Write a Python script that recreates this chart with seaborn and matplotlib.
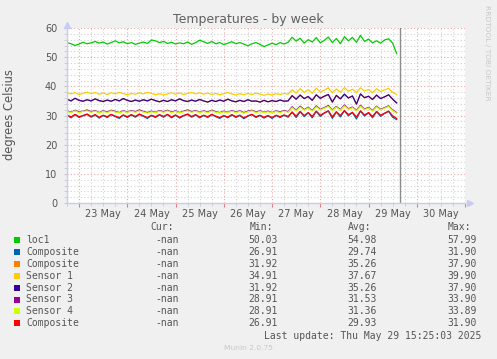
import matplotlib
matplotlib.use("Agg")
import matplotlib.pyplot as plt
import matplotlib.dates as mdates
from matplotlib.patches import Rectangle
from matplotlib.ticker import MultipleLocator, FuncFormatter, NullFormatter
import seaborn as sns
import pandas as pd

# ------------------------------------------------------------
# data (2 h steps from 22 May 18:00)
# ------------------------------------------------------------
start = "2025-05-22 18:00"
last_update = "2025-05-29 15:25:03"

loc1 = [
    55.0, 54.6, 54.0, 54.5, 55.1, 54.6, 54.9, 55.4,
    54.8, 55.2, 54.5, 55.0, 55.6, 54.9, 55.3, 54.6,
    55.0, 54.4, 54.8, 55.2, 54.7, 55.9, 55.6, 55.0,
    55.4, 54.7, 55.1, 54.5, 54.9, 54.6, 55.2, 54.4,
    55.0, 55.8, 55.3, 54.7, 55.4, 54.6, 55.0, 54.3,
    54.8, 55.3, 54.6, 55.0, 54.5, 53.9, 54.6, 55.0,
    54.4, 53.6, 54.2, 54.8, 54.3, 55.0, 54.5, 55.1,
    56.8, 55.5, 56.5, 54.8, 56.0, 55.2, 56.7, 54.9, 55.8,
    56.9, 55.0, 56.4, 54.6, 57.0, 55.6, 56.8, 55.1, 57.5,
    55.4, 56.2, 54.9, 55.6, 54.8, 55.9, 56.3, 54.8, 51.2,
]
sensor_1 = [
    37.9, 37.4, 37.8, 37.2, 37.6, 38.0, 37.5, 37.9,
    37.3, 37.7, 37.2, 37.8, 37.4, 37.9, 37.5, 37.1,
    37.6, 37.3, 37.8, 37.4, 37.9, 37.6, 37.1, 37.5,
    37.0, 37.4, 37.8, 37.3, 37.7, 37.2, 37.6, 37.9,
    37.4, 37.8, 37.3, 37.7, 37.2, 37.6, 37.1, 37.5,
    37.9, 37.4, 37.0, 37.5, 37.1, 37.6, 37.2, 37.7,
    37.3, 36.9, 37.4, 37.0, 37.5, 37.2, 37.6, 37.3,
    38.8, 37.7, 39.2, 37.9, 38.9, 37.6, 39.4, 38.1, 38.7,
    39.5, 37.8, 39.1, 38.0, 39.6, 38.3, 39.0, 37.9, 39.5,
    38.4, 38.9, 37.8, 39.2, 38.2, 38.8, 39.3, 38.0, 37.2,
]
sensor_2 = [
    35.6, 35.0, 35.9, 35.2, 34.9, 35.4, 35.0, 35.7,
    35.1, 34.8, 35.3, 34.9, 35.5, 35.0, 35.8, 35.2,
    34.8, 35.3, 34.9, 35.4, 35.0, 35.6, 35.1, 34.7,
    35.2, 34.8, 35.4, 35.0, 35.7, 35.1, 34.8, 35.3,
    34.9, 35.5, 35.0, 34.6, 35.2, 34.8, 35.3, 34.9,
    35.6, 35.0, 34.7, 35.2, 34.8, 35.4, 34.9, 35.0,
    34.6, 35.2, 34.7, 35.1, 34.8, 35.3, 34.9, 35.0,
    36.8, 35.6, 37.0, 35.8, 36.5, 35.2, 37.1, 35.9, 36.6,
    37.2, 34.6, 36.9, 35.7, 37.3, 36.0, 36.7, 33.9, 37.4,
    36.1, 36.6, 35.5, 37.0, 35.8, 36.4, 37.1, 35.6, 34.3,
]
# the orange Composite has the same min/avg/max as Sensor 2 -> same curve, hidden under it
composite_b = list(sensor_2)
sensor_3 = [
    31.6, 31.1, 31.8, 31.2, 31.5, 31.9, 31.3, 31.7,
    31.0, 31.6, 31.2, 31.8, 31.4, 31.0, 31.6, 31.2,
    31.7, 31.3, 31.9, 31.4, 31.0, 31.5, 31.1, 31.7,
    31.3, 31.8, 31.2, 31.6, 31.0, 31.5, 31.9, 31.3,
    31.7, 31.1, 31.6, 31.2, 31.8, 31.3, 31.0, 31.5,
    31.1, 31.7, 31.2, 31.6, 31.0, 31.5, 31.8, 31.2,
    31.6, 31.1, 31.5, 31.0, 31.6, 31.2, 31.7, 31.3,
    33.0, 31.8, 33.2, 32.0, 32.8, 31.7, 33.3, 32.1, 32.7,
    33.4, 31.9, 33.1, 32.0, 33.6, 32.3, 32.9, 31.8, 33.5,
    32.2, 32.8, 31.7, 33.2, 32.1, 32.7, 33.3, 31.9, 31.0,
]
sensor_4 = [
    31.4, 31.0, 31.6, 31.0, 31.4, 31.6, 31.1, 31.5,
    30.9, 31.4, 31.0, 31.6, 31.2, 30.9, 31.4, 31.1,
    31.5, 31.1, 31.6, 31.2, 30.8, 31.3, 31.0, 31.5,
    31.1, 31.6, 31.0, 31.4, 30.9, 31.3, 31.6, 31.1,
    31.5, 31.0, 31.4, 31.0, 31.6, 31.1, 30.9, 31.3,
    31.0, 31.5, 31.0, 31.4, 30.8, 31.3, 31.6, 31.0,
    31.4, 31.0, 31.3, 30.9, 31.4, 31.0, 31.5, 31.1,
    32.7, 31.6, 32.9, 31.8, 32.6, 31.5, 33.0, 31.9, 32.5,
    33.1, 31.7, 32.9, 31.8, 33.3, 32.1, 32.7, 31.6, 33.2,
    32.0, 32.6, 31.5, 33.0, 31.9, 32.5, 33.1, 31.7, 30.8,
]
composite_c = [
    30.2, 29.5, 30.4, 29.6, 30.0, 30.5, 29.7, 30.3,
    29.4, 30.1, 29.6, 30.4, 29.8, 29.3, 30.2, 29.6,
    30.3, 29.7, 30.5, 29.9, 29.3, 30.1, 29.6, 30.3,
    29.7, 30.4, 29.5, 30.2, 29.4, 30.0, 30.5, 29.7,
    30.3, 29.5, 30.1, 29.6, 30.4, 29.8, 29.3, 30.0,
    29.5, 30.3, 29.6, 30.1, 29.2, 29.9, 30.4, 29.6,
    30.1, 29.4, 30.0, 29.3, 30.1, 29.6, 30.2, 29.7,
    31.2, 29.8, 31.4, 30.0, 31.0, 29.7, 31.5, 30.1, 30.9,
    31.6, 29.6, 31.3, 30.0, 31.7, 30.3, 31.1, 29.5, 31.6,
    30.2, 31.0, 29.7, 31.4, 30.1, 30.8, 31.5, 29.9, 29.0,
]
composite_a = [
    30.1, 29.2, 30.3, 29.3, 29.9, 30.4, 29.4, 30.2,
    29.1, 30.0, 29.3, 30.3, 29.6, 29.0, 30.1, 29.3,
    30.2, 29.4, 30.4, 29.7, 29.0, 30.0, 29.3, 30.2,
    29.4, 30.3, 29.2, 30.1, 29.1, 29.9, 30.4, 29.4,
    30.2, 29.2, 30.0, 29.3, 30.3, 29.6, 29.0, 29.9,
    29.2, 30.2, 29.3, 30.0, 28.9, 29.8, 30.3, 29.3,
    30.0, 29.1, 29.9, 29.0, 30.0, 29.3, 30.1, 29.4,
    31.1, 29.3, 31.3, 29.6, 30.9, 29.2, 31.4, 29.7, 30.8,
    31.5, 29.0, 31.2, 29.5, 31.6, 29.9, 31.0, 28.8, 31.5,
    29.8, 30.9, 29.2, 31.3, 29.7, 30.7, 31.4, 29.4, 28.6,
]

series_keys = ["loc1", "composite_a", "composite_b", "sensor_1",
               "sensor_2", "sensor_3", "sensor_4", "composite_c"]
series_labels = ["loc1", "Composite", "Composite", "Sensor 1",
                 "Sensor 2", "Sensor 3", "Sensor 4", "Composite"]
series_colors = ["#00CC00", "#0066B3", "#FF8000", "#FFCC00",
                 "#330099", "#990099", "#CCFF00", "#FF0000"]
series_values = [loc1, composite_a, composite_b, sensor_1,
                 sensor_2, sensor_3, sensor_4, composite_c]

cur_vals = ["-nan"] * 8
min_vals = ["50.03", "26.91", "31.92", "34.91", "31.92", "28.91", "28.91", "26.91"]
avg_vals = ["54.98", "29.74", "35.26", "37.67", "35.26", "31.53", "31.36", "29.93"]
max_vals = ["57.99", "31.90", "37.90", "39.90", "37.90", "33.90", "33.89", "31.90"]

frames = []
for key, vals in zip(series_keys, series_values):
    frames.append(pd.DataFrame({
        "time": pd.date_range(start, periods=len(vals), freq="2h"),
        "value": vals,
        "series": key,
    }))
df = pd.concat(frames, ignore_index=True)

# ------------------------------------------------------------
# figure
# ------------------------------------------------------------
W, H = 497, 359
bg = "#F0F0F0"
txt = "#555555"

fig = plt.figure(figsize=(W / 100, H / 100), dpi=100, facecolor=bg)
ax = fig.add_axes([67 / W, 1 - 203 / H, 398 / W, 175 / H], facecolor="white")

sns.lineplot(data=df, x="time", y="value", hue="series", hue_order=series_keys,
             palette=dict(zip(series_keys, series_colors)), estimator=None,
             errorbar=None, linewidth=0.9, legend=False, ax=ax)

ax.axvline(pd.Timestamp(last_update), color="#8C8C8C", lw=1.0)

ax.set_xlim(pd.Timestamp("2025-05-22 18:00"), pd.Timestamp("2025-05-31 00:00"))
ax.set_ylim(0, 60)
ax.set_xlabel("")
ax.set_ylabel("")

# day lines at midnight, labels at noon
ax.xaxis.set_major_locator(mdates.DayLocator())
ax.xaxis.set_major_formatter(NullFormatter())
ax.xaxis.set_minor_locator(mdates.HourLocator(byhour=[6, 12, 18]))


def noon_label(x, pos):
    d = mdates.num2date(x)
    return d.strftime("%d %b") if d.hour == 12 else ""


ax.xaxis.set_minor_formatter(FuncFormatter(noon_label))
ax.yaxis.set_major_locator(MultipleLocator(10))
ax.yaxis.set_minor_locator(MultipleLocator(2))

ax.set_axisbelow(True)
ax.grid(which="minor", color="#D2D2D2", ls=(0, (1, 2)), lw=0.8)
ax.grid(which="major", color="#E8A8A8", ls=(0, (1, 2)), lw=0.8)

ax.tick_params(which="both", labelsize=7, labelcolor=txt, length=2, color="#C8C8C8")
ax.tick_params(axis="y", which="major", pad=5)
ax.tick_params(axis="x", which="both", pad=2)
ax.tick_params(axis="x", which="major", color="#E08080", length=3)

for side in ["top", "right"]:
    ax.spines[side].set_visible(False)
for side in ["left", "bottom"]:
    ax.spines[side].set_color("#C8CCF4")
    ax.spines[side].set_linewidth(1.0)
ax.plot([1.012], [0], marker=">", ms=5, color="#C8CCF4", transform=ax.transAxes, clip_on=False)
ax.plot([0], [1.02], marker="^", ms=5, color="#C8CCF4", transform=ax.transAxes, clip_on=False)

# titles
fig.text(248 / W, 1 - 19 / H, "Temperatures - by week", ha="center", va="center",
         fontsize=9, color="#606060")
fig.text(10 / W, 1 - 115 / H, "degrees Celsius", rotation=90, ha="center", va="center",
         fontsize=8.3, color=txt)
fig.text(487 / W, 1 - 53 / H, "RRDTOOL / TOBI OETIKER", rotation=270, ha="center",
         va="center", fontsize=5.4, color="#C8C8C8")

# legend table
mono = dict(family="DejaVu Sans Mono", fontsize=7, color=txt, va="center")
fig.text(150 / W, 1 - 227 / H, "Cur:", ha="left", **mono)
fig.text(250 / W, 1 - 227 / H, "Min:", ha="left", **mono)
fig.text(348 / W, 1 - 227 / H, "Avg:", ha="left", **mono)
fig.text(448 / W, 1 - 227 / H, "Max:", ha="left", **mono)

row_top, row_step = 240, 11.9
for i, (lab, col) in enumerate(zip(series_labels, series_colors)):
    y = row_top + i * row_step
    fig.add_artist(Rectangle((14 / W, 1 - (y + 3) / H), 6 / W, 6 / H,
                             transform=fig.transFigure, color=col, lw=0))
    fig.text(26 / W, 1 - y / H, lab, ha="left", **mono)
    fig.text(179 / W, 1 - y / H, cur_vals[i], ha="right", **mono)
    fig.text(278 / W, 1 - y / H, min_vals[i], ha="right", **mono)
    fig.text(377 / W, 1 - y / H, avg_vals[i], ha="right", **mono)
    fig.text(477 / W, 1 - y / H, max_vals[i], ha="right", **mono)

fig.text(481 / W, 1 - 336 / H, "Last update: Thu May 29 15:25:03 2025", ha="right", **mono)
fig.text(248 / W, 1 - 348 / H, "Munin 2.0.75", ha="center", va="center",
         fontsize=5.4, color="#C8C8C8")

fig.savefig("out.png", dpi=100, facecolor=bg)
